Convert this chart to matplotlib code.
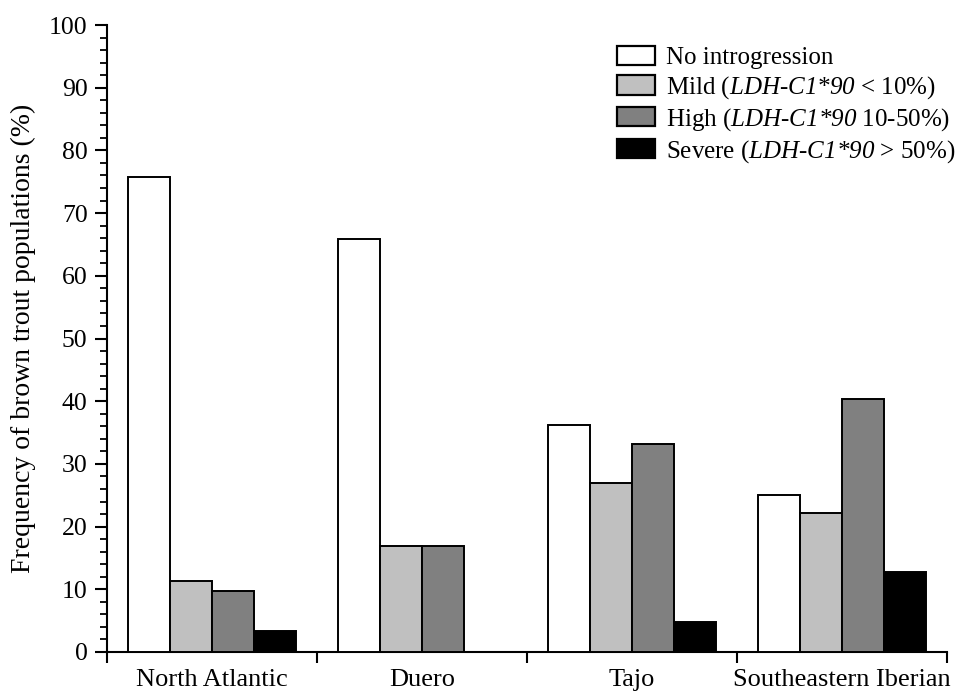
import matplotlib
matplotlib.use("Agg")
import matplotlib.pyplot as plt
import numpy as np

plt.rcParams["font.family"] = ["Liberation Serif", "DejaVu Serif"]
# math "rm" is pointed at the italic face so LDH-C1*90 comes out fully italic
plt.rcParams["mathtext.fontset"] = "custom"
plt.rcParams["mathtext.rm"] = "Liberation Serif:italic"
plt.rcParams["mathtext.it"] = "Liberation Serif:italic"

# data
regions = ["North Atlantic", "Duero", "Tajo", "Southeastern Iberian"]
series_labels = [
    "No introgression",
    r"Mild ($\mathrm{LDH}$-$\mathrm{C1{*}90}$ < 10%)",
    r"High ($\mathrm{LDH}$-$\mathrm{C1{*}90}$ 10-50%)",
    r"Severe ($\mathrm{LDH}$-$\mathrm{C1{*}90}$ > 50%)",
]
no_introgression = [75.8, 65.9, 36.2, 25.0]
mild = [11.3, 16.9, 26.9, 22.1]
high = [9.7, 16.9, 33.1, 40.3]
severe = [3.4, 0.0, 4.8, 12.8]

series = [no_introgression, mild, high, severe]
colors = ["#ffffff", "#c0c0c0", "#808080", "#000000"]

fig = plt.figure(figsize=(9.59, 6.95), dpi=100)
ax = fig.add_axes([107 / 959, 1 - 652 / 695, (947 - 107) / 959, (652 - 25) / 695])

x = np.arange(len(regions)) + 0.5
width = 0.2
for i, (vals, col, lab) in enumerate(zip(series, colors, series_labels)):
    offs = (i - 1.5) * width
    ax.bar(x + offs, vals, width, color=col, edgecolor="black", linewidth=1.4,
           label=lab, zorder=3)

ax.set_xlim(0, len(regions))
ax.set_ylim(0, 100)

for s in ["top", "right"]:
    ax.spines[s].set_visible(False)
for s in ["left", "bottom"]:
    ax.spines[s].set_linewidth(1.5)

# x: ticks on group boundaries, labels at centres
ax.set_xticks(np.arange(len(regions) + 1))
ax.set_xticklabels([])
ax.set_xticks(x, minor=True)
ax.set_xticklabels(regions, minor=True, fontsize=19)
ax.tick_params(axis="x", which="major", direction="out", length=8, width=1.5)
ax.tick_params(axis="x", which="minor", length=0, pad=12)

ax.set_yticks(np.arange(0, 101, 10))
ax.set_yticks(np.arange(0, 101, 2), minor=True)
ax.tick_params(axis="y", which="major", direction="out", length=9, width=1.5,
               labelsize=18.5, pad=5)
ax.tick_params(axis="y", which="minor", direction="out", length=5, width=1.3)

ax.set_ylabel("Frequency of brown trout populations (%)", fontsize=20, labelpad=9)

leg = ax.legend(loc="upper left", bbox_to_anchor=(617 / 959, 1 - 46 / 695),
                bbox_transform=fig.transFigure, frameon=False, fontsize=18,
                borderpad=0, borderaxespad=0, handlelength=1.5, handleheight=0.8,
                handletextpad=0.45, labelspacing=0.2)
for h in leg.legend_handles:
    h.set_linewidth(1.6)

fig.savefig("out.png", dpi=100)
plt.close(fig)
